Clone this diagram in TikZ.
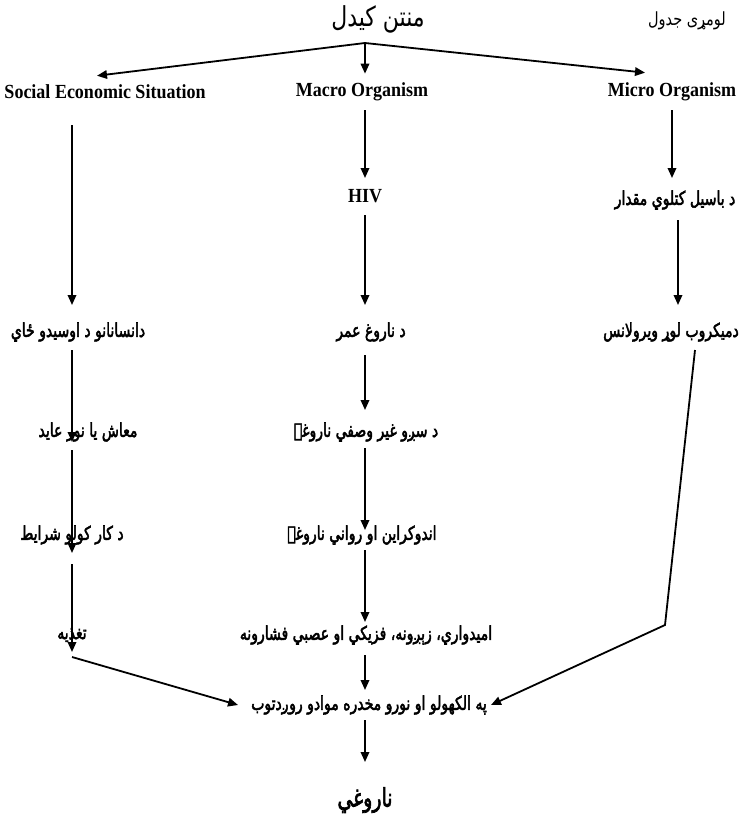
\documentclass[tikz,border=0pt]{standalone}
\usepackage{graphicx}
\usepackage{fontspec}
\setmainfont{Liberation Serif}
\newfontfamily\arb[Script=Arabic,FakeBold=3]{DejaVu Sans}
\newfontfamily\arr[Script=Arabic]{DejaVu Sans}
\TeXXeTstate=1
\usetikzlibrary{arrows.meta}
\newcommand{\ARB}[1]{\scalebox{1}[1.35]{\arb\beginR #1\endR}}
\newcommand{\ARL}[1]{\scalebox{1}[1.25]{\arr\beginR #1\endR}}
\newcommand{\ENG}[1]{\scalebox{0.9}[1]{#1}}
\tikzset{
  lab/.style={inner sep=1pt, font=\fontsize{14}{16}\selectfont},
  en/.style={inner sep=1pt, font=\bfseries\fontsize{20}{22}\selectfont},
  ttl/.style={inner sep=1pt, font=\fontsize{22}{24}\selectfont},
  tab/.style={inner sep=1pt, font=\fontsize{14.5}{16}\selectfont},
  con/.style={line width=1.8pt, -{Triangle[length=10pt,width=8.5pt]}},
  seg/.style={line width=1.8pt}
}
\begin{document}
\begin{tikzpicture}[x=1pt,y=-1pt]
\useasboundingbox (0,0) rectangle (748,817);
% titles
\node[ttl] (title) at (378,19) {\ARL{منتن کیدل}};
\node[tab] (table) at (687,21) {\ARL{لومړی جدول}};
\coordinate (apex) at (365,43);
% level 1
\node[en] (soc) at (105,92) {\ENG{Social Economic Situation}};
\node[en] (mac) at (362,92) {\ENG{Macro Organism}};
\node[en] (mic) at (672,92) {\ENG{Micro Organism}};
% left column
\coordinate (cL) at (72,0);
\node[lab] (l1) at (78,332) {\ARB{دانسانانو د اوسیدو ځاي}};
\node[lab] (l2) at (88,432) {\ARB{معاش يا نور عايد}};
\node[lab] (l3) at (72,535) {\ARB{د کار کولو شرايط}};
\node[lab] (l4) at (72,635) {\ARB{تغذیه}};
% middle column
\coordinate (cM) at (365,0);
\node[en] (hiv) at (365,196) {\ENG{HIV}};
\node[lab] (m1) at (371,332) {\ARB{د ناروغ عمر}};
\node[lab] (m2) at (366,432) {\ARB{د سږو غير وصفي ناروغۍ}};
\node[lab] (m3) at (362,535) {\ARB{اندوکراین او رواني ناروغۍ}};
\node[lab] (m4) at (366,635) {\ARB{امیدواري، زېږونه، فزيکي او عصبي فشارونه}};
\node[lab] (alc) at (369,705) {\ARB{په الکهولو او نورو مخدره موادو روږدتوب}};
\node[lab, font=\fontsize{19}{22}\selectfont] (dis) at (365,800) {\ARB{ناروغي}};
% right column
\coordinate (cR) at (672,0);
\coordinate (cR2) at (678,0);
\node[lab] (r1) at (675,200) {\ARB{د باسیل کتلوي مقدار}};
\node[lab] (r2) at (671,332) {\ARB{دمیکروب لوړ ویرولانس}};
\coordinate (rbend1) at (695,350);
\coordinate (rbend2) at (665,625);
% top fan
\draw[con] (apex) -- ([xshift=-8pt,yshift=8pt]soc.north);
\draw[con] (apex) -- ([xshift=-27pt,yshift=9pt]mic.north);
\draw[con] (apex) -- ([yshift=8pt]mac.north -| cM);
% left chain
\draw[con] ([yshift=-33pt]soc.center -| cL) -- ([yshift=27pt]l1.center -| cL);
\draw[con] ([yshift=-18pt]l1.center -| cL) -- ([yshift=-10pt]l2.center -| cL);
\draw[con] ([yshift=-18pt]l2.center -| cL) -- ([yshift=-18pt]l3.center -| cL);
\draw[con] ([yshift=-29pt]l3.center -| cL) -- ([yshift=-17pt]l4.center -| cL);
\draw[con] ([yshift=-22pt]l4.center -| cL) -- ([xshift=-12pt]alc.west);
% middle chain
\draw[con] ([yshift=-18pt]mac.center -| cM) -- ([yshift=18pt]hiv.center -| cM);
\draw[con] ([yshift=-19pt]hiv.center -| cM) -- ([yshift=27pt]m1.center -| cM);
\draw[con] ([yshift=-23pt]m1.center -| cM) -- ([yshift=22pt]m2.center -| cM);
\draw[con] ([yshift=-16pt]m2.center -| cM) -- ([yshift=5pt]m3.center -| cM);
\draw[con] ([yshift=-15pt]m3.center -| cM) -- ([yshift=13pt]m4.center -| cM);
\draw[con] ([yshift=-20pt]m4.center -| cM) -- ([yshift=15pt]alc.center -| cM);
\draw[con] ([yshift=-15pt]alc.center -| cM) -- ([yshift=38pt]dis.center -| cM);
% right chain
\draw[con] ([yshift=-18pt]mic.center -| cR) -- ([yshift=22pt]r1.center -| cR);
\draw[con] ([yshift=-20pt]r1.center -| cR2) -- ([yshift=27pt]r2.center -| cR2);
\draw[con] (rbend1) -- (rbend2) -- ([xshift=3pt]alc.east);
\end{tikzpicture}
\end{document}
